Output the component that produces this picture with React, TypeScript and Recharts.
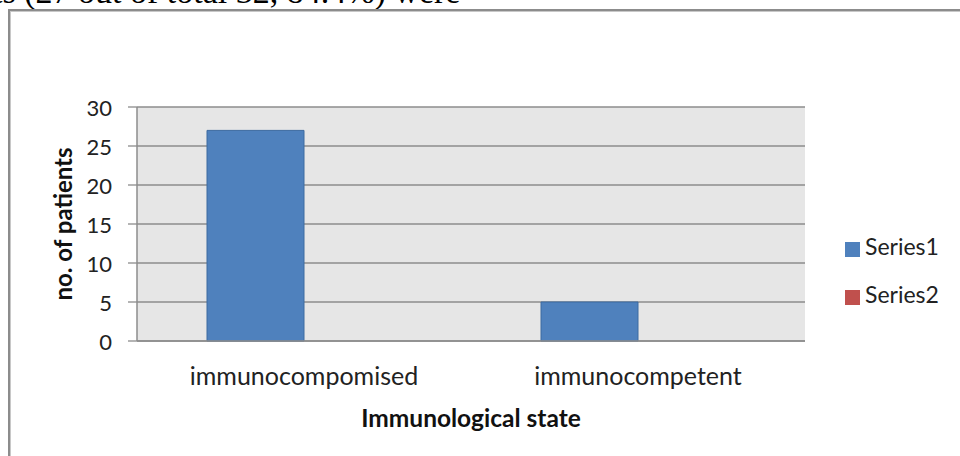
import React from 'react';
import { BarChart, Bar, XAxis, YAxis, CartesianGrid, Legend, Label } from 'recharts';

const categories = ['immunocompomised', 'immunocompetent'];
const series1 = [27, 5];
const series2 = [0, 0];
const yTicks = [0, 5, 10, 15, 20, 25, 30];

const data = categories.map((name, i) => ({ name, s1: series1[i], s2: series2[i] }));

const font = 'Lato, "Open Sans", sans-serif';

const XTick = (props: any) => {
  const { x, y, payload } = props;
  return (
    <text x={x} y={y + 26} textAnchor="middle" dominantBaseline="central" fontFamily={font} fontSize={25} fill="#222">
      {payload.value}
    </text>
  );
};

const YTick = (props: any) => {
  const { y, payload } = props;
  return (
    <text x={112} y={y} textAnchor="end" dominantBaseline="central" fontFamily={font} fontSize={22} fill="#222">
      {payload.value}
    </text>
  );
};

export default function App() {
  return (
    <div style={{ position: 'absolute', left: 0, top: 0, width: 960, height: 456, overflow: 'hidden', background: '#fff' }}>
      <div
        style={{
          position: 'absolute',
          left: -7,
          top: -27,
          whiteSpace: 'nowrap',
          fontFamily: '"Liberation Serif", serif',
          fontSize: 34,
          color: '#000',
        }}
      >
        ts (27 out of total 32, 84.4%) were
      </div>
      <div
        style={{
          position: 'absolute',
          left: 8,
          top: 9,
          width: 980,
          height: 480,
          borderLeft: '2px solid #8c8c8c',
          borderTop: '2px solid #8c8c8c',
          boxShadow: 'inset 1px 1px 0 #c8c8c8',
        }}
      />
      <div style={{ position: 'absolute', left: 0, top: 0 }}>
        <BarChart
          width={960}
          height={456}
          data={data}
          margin={{ top: 107, right: 40, bottom: 85, left: 77 }}
          barCategoryGap={70}
          barGap={0}
        >
          <CartesianGrid vertical={false} stroke="#8c8c8c" fill="#e6e6e6" strokeWidth={1.3} />
          <XAxis
            dataKey="name"
            height={30}
            tick={<XTick />}
            tickLine={false}
            axisLine={{ stroke: '#8c8c8c', strokeWidth: 1.5 }}
            interval={0}
          >
            <Label
              content={(p: any) => {
                const vb = p.viewBox;
                const cx = vb.x + vb.width / 2;
                return (
                  <text x={cx} y={417} textAnchor="middle" dominantBaseline="central" fontFamily={font} fontSize={24.5} fontWeight={700} fill="#111">
                    Immunological state
                  </text>
                );
              }}
            />
          </XAxis>
          <YAxis
            domain={[0, 30]}
            ticks={yTicks}
            width={60}
            tick={<YTick />}
            tickSize={9}
            tickLine={{ stroke: '#8c8c8c', strokeWidth: 1.3 }}
            axisLine={{ stroke: '#8c8c8c', strokeWidth: 1.5 }}
          >
            <Label
              content={(p: any) => {
                const vb = p.viewBox;
                const cy = vb.y + vb.height / 2;
                return (
                  <text
                    x={62}
                    y={cy}
                    transform={`rotate(-90 62 ${cy})`}
                    textAnchor="middle"
                    dominantBaseline="central"
                    fontFamily={font}
                    fontSize={24}
                    fontWeight={700}
                    fill="#111"
                  >
                    no. of patients
                  </text>
                );
              }}
            />
          </YAxis>
          <Legend
            layout="vertical"
            align="right"
            verticalAlign="middle"
            iconType="square"
            iconSize={15}
            wrapperStyle={{ left: 845, top: 222, width: 115, fontFamily: font, fontSize: 23, color: '#222', lineHeight: '48px' }}
            formatter={(v: string) => <span style={{ color: '#222', marginLeft: 1 }}>{v}</span>}
          />
          <Bar dataKey="s1" name="Series1" fill="#4f81bd" stroke="#3c6aa0" strokeWidth={1} isAnimationActive={false} />
          <Bar dataKey="s2" name="Series2" fill="#c0504d" stroke="#9c3b39" strokeWidth={1} isAnimationActive={false} />
        </BarChart>
      </div>
    </div>
  );
}
